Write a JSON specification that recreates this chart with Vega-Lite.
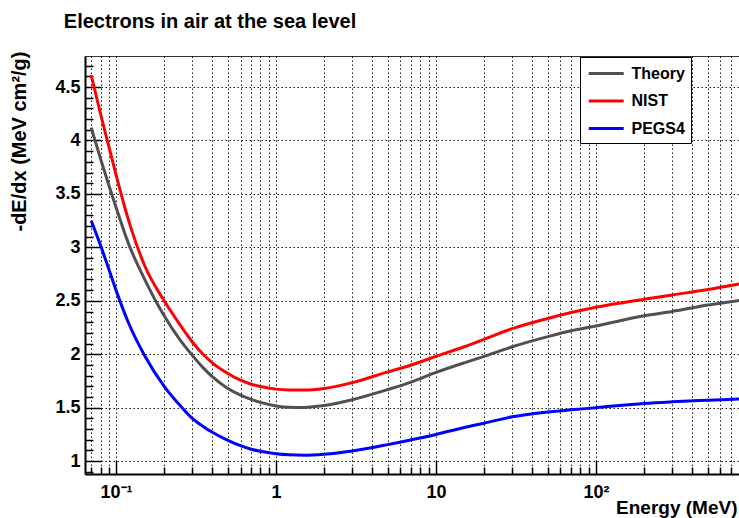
{
  "$schema": "https://vega.github.io/schema/vega-lite/v6.json",
  "width": 654,
  "height": 418,
  "autosize": "none",
  "padding": {"left": 85, "top": 56, "right": 0, "bottom": 44},
  "background": "white",
  "title": {
    "text": "Electrons in air at the sea level",
    "anchor": "start",
    "align": "center",
    "dx": 201,
    "offset": 9,
    "baseline": "middle",
    "font": "Liberation Sans",
    "fontSize": 20,
    "fontWeight": "bold",
    "color": "black"
  },
  "config": {
    "view": {"stroke": "#333", "strokeWidth": 1},
    "font": "Liberation Sans"
  },
  "data": {
    "values": [
      {"series": "Theory", "E": 0.07, "v": 4.12},
      {"series": "Theory", "E": 0.08, "v": 3.83},
      {"series": "Theory", "E": 0.09, "v": 3.585},
      {"series": "Theory", "E": 0.1, "v": 3.375},
      {"series": "Theory", "E": 0.12, "v": 3.03},
      {"series": "Theory", "E": 0.15, "v": 2.71},
      {"series": "Theory", "E": 0.2, "v": 2.36},
      {"series": "Theory", "E": 0.25, "v": 2.14},
      {"series": "Theory", "E": 0.3, "v": 1.99},
      {"series": "Theory", "E": 0.35, "v": 1.875},
      {"series": "Theory", "E": 0.4, "v": 1.79},
      {"series": "Theory", "E": 0.5, "v": 1.68},
      {"series": "Theory", "E": 0.6, "v": 1.618},
      {"series": "Theory", "E": 0.7, "v": 1.578},
      {"series": "Theory", "E": 0.8, "v": 1.55},
      {"series": "Theory", "E": 1.0, "v": 1.517},
      {"series": "Theory", "E": 1.2, "v": 1.505},
      {"series": "Theory", "E": 1.5, "v": 1.503},
      {"series": "Theory", "E": 2, "v": 1.52},
      {"series": "Theory", "E": 3, "v": 1.575},
      {"series": "Theory", "E": 5, "v": 1.67},
      {"series": "Theory", "E": 7, "v": 1.74},
      {"series": "Theory", "E": 10, "v": 1.83},
      {"series": "Theory", "E": 15, "v": 1.92},
      {"series": "Theory", "E": 20, "v": 1.98},
      {"series": "Theory", "E": 30, "v": 2.07},
      {"series": "Theory", "E": 50, "v": 2.165},
      {"series": "Theory", "E": 70, "v": 2.22},
      {"series": "Theory", "E": 100, "v": 2.265},
      {"series": "Theory", "E": 200, "v": 2.36},
      {"series": "Theory", "E": 300, "v": 2.40},
      {"series": "Theory", "E": 500, "v": 2.46},
      {"series": "Theory", "E": 800, "v": 2.505},
      {"series": "Theory", "E": 1000, "v": 2.53},
      {"series": "NIST", "E": 0.07, "v": 4.61},
      {"series": "NIST", "E": 0.08, "v": 4.25},
      {"series": "NIST", "E": 0.09, "v": 3.95},
      {"series": "NIST", "E": 0.1, "v": 3.68},
      {"series": "NIST", "E": 0.12, "v": 3.25},
      {"series": "NIST", "E": 0.15, "v": 2.84},
      {"series": "NIST", "E": 0.2, "v": 2.5},
      {"series": "NIST", "E": 0.25, "v": 2.28},
      {"series": "NIST", "E": 0.3, "v": 2.115},
      {"series": "NIST", "E": 0.35, "v": 2.0},
      {"series": "NIST", "E": 0.4, "v": 1.92},
      {"series": "NIST", "E": 0.5, "v": 1.82},
      {"series": "NIST", "E": 0.6, "v": 1.757},
      {"series": "NIST", "E": 0.7, "v": 1.72},
      {"series": "NIST", "E": 0.8, "v": 1.698},
      {"series": "NIST", "E": 1.0, "v": 1.674},
      {"series": "NIST", "E": 1.2, "v": 1.666},
      {"series": "NIST", "E": 1.5, "v": 1.665},
      {"series": "NIST", "E": 2, "v": 1.68},
      {"series": "NIST", "E": 3, "v": 1.735},
      {"series": "NIST", "E": 5, "v": 1.835},
      {"series": "NIST", "E": 7, "v": 1.9},
      {"series": "NIST", "E": 10, "v": 1.98},
      {"series": "NIST", "E": 15, "v": 2.07},
      {"series": "NIST", "E": 20, "v": 2.14},
      {"series": "NIST", "E": 30, "v": 2.24},
      {"series": "NIST", "E": 50, "v": 2.335},
      {"series": "NIST", "E": 70, "v": 2.39},
      {"series": "NIST", "E": 100, "v": 2.44},
      {"series": "NIST", "E": 200, "v": 2.515},
      {"series": "NIST", "E": 300, "v": 2.555},
      {"series": "NIST", "E": 500, "v": 2.605},
      {"series": "NIST", "E": 800, "v": 2.66},
      {"series": "NIST", "E": 1000, "v": 2.685},
      {"series": "PEGS4", "E": 0.07, "v": 3.25},
      {"series": "PEGS4", "E": 0.08, "v": 3.02},
      {"series": "PEGS4", "E": 0.09, "v": 2.8},
      {"series": "PEGS4", "E": 0.1, "v": 2.6},
      {"series": "PEGS4", "E": 0.12, "v": 2.29},
      {"series": "PEGS4", "E": 0.15, "v": 1.995},
      {"series": "PEGS4", "E": 0.2, "v": 1.7},
      {"series": "PEGS4", "E": 0.25, "v": 1.525},
      {"series": "PEGS4", "E": 0.3, "v": 1.4},
      {"series": "PEGS4", "E": 0.35, "v": 1.325},
      {"series": "PEGS4", "E": 0.4, "v": 1.27},
      {"series": "PEGS4", "E": 0.5, "v": 1.195},
      {"series": "PEGS4", "E": 0.6, "v": 1.145},
      {"series": "PEGS4", "E": 0.7, "v": 1.112},
      {"series": "PEGS4", "E": 0.8, "v": 1.092},
      {"series": "PEGS4", "E": 1.0, "v": 1.07},
      {"series": "PEGS4", "E": 1.2, "v": 1.06},
      {"series": "PEGS4", "E": 1.5, "v": 1.056},
      {"series": "PEGS4", "E": 2, "v": 1.065},
      {"series": "PEGS4", "E": 3, "v": 1.095},
      {"series": "PEGS4", "E": 5, "v": 1.155},
      {"series": "PEGS4", "E": 7, "v": 1.2},
      {"series": "PEGS4", "E": 10, "v": 1.25},
      {"series": "PEGS4", "E": 15, "v": 1.315},
      {"series": "PEGS4", "E": 20, "v": 1.355},
      {"series": "PEGS4", "E": 30, "v": 1.415},
      {"series": "PEGS4", "E": 50, "v": 1.46},
      {"series": "PEGS4", "E": 70, "v": 1.48},
      {"series": "PEGS4", "E": 100, "v": 1.5},
      {"series": "PEGS4", "E": 200, "v": 1.54},
      {"series": "PEGS4", "E": 300, "v": 1.555},
      {"series": "PEGS4", "E": 500, "v": 1.57},
      {"series": "PEGS4", "E": 800, "v": 1.583},
      {"series": "PEGS4", "E": 1000, "v": 1.59}
    ]
  },
  "mark": {"type": "line", "strokeWidth": 3, "interpolate": "monotone", "clip": true},
  "encoding": {
    "x": {
      "field": "E",
      "type": "quantitative",
      "scale": {"type": "log", "domain": [0.064, 783.4], "nice": false},
      "axis": {
        "title": "Energy (MeV)",
        "titleFont": "Liberation Sans",
        "titleFontWeight": "bold",
        "titleFontSize": 19,
        "titleColor": "black",
        "titleAnchor": "end",
        "titleAlign": "right",
        "titleX": 652,
        "titleY": 33,
        "titleBaseline": "middle",
        "values": [0.07, 0.08, 0.09, 0.1, 0.2, 0.3, 0.4, 0.5, 0.6, 0.7, 0.8, 0.9, 1, 2, 3, 4, 5, 6, 7, 8, 9, 10, 20, 30, 40, 50, 60, 70, 80, 90, 100, 200, 300, 400, 500, 600, 700],
        "labelExpr": "datum.value == 0.1 ? '10⁻¹' : datum.value == 1 ? '1' : datum.value == 10 ? '10' : datum.value == 100 ? '10²' : ''",
        "labelFont": "Liberation Sans",
        "labelFontWeight": "bold",
        "labelFontSize": 18,
        "labelColor": "black",
        "labelPadding": 23,
        "labelFlush": false,
        "labelOverlap": false,
        "domainColor": "black",
        "domainWidth": 2,
        "tickColor": "black",
        "tickWidth": 1.5,
        "tickSize": {"condition": {"test": "datum.value == 0.1 || datum.value == 1 || datum.value == 10 || datum.value == 100", "value": -14}, "value": -7},
        "grid": true,
        "gridColor": "black",
        "gridDash": [1.5, 2.5],
        "gridWidth": 1,
        "gridOpacity": 0.9
      }
    },
    "y": {
      "field": "v",
      "type": "quantitative",
      "scale": {"domain": [0.88, 4.79], "nice": false, "zero": false},
      "axis": {
        "title": "-dE/dx (MeV cm²/g)",
        "titleFont": "Liberation Sans",
        "titleFontWeight": "bold",
        "titleFontSize": 20,
        "titleColor": "black",
        "titleAnchor": "end",
        "titleAlign": "right",
        "titleAngle": -90,
        "titleX": -66,
        "titleY": -5,
        "titleBaseline": "middle",
        "values": [0.9, 1.0, 1.1, 1.2, 1.3, 1.4, 1.5, 1.6, 1.7, 1.8, 1.9, 2.0, 2.1, 2.2, 2.3, 2.4, 2.5, 2.6, 2.7, 2.8, 2.9, 3.0, 3.1, 3.2, 3.3, 3.4, 3.5, 3.6, 3.7, 3.8, 3.9, 4.0, 4.1, 4.2, 4.3, 4.4, 4.5, 4.6, 4.7],
        "format": ".1~f",
        "labelExpr": "round(datum.value*10) % 5 == 0 ? datum.label : ''",
        "labelFont": "Liberation Sans",
        "labelFontWeight": "bold",
        "labelFontSize": 18,
        "labelColor": "black",
        "labelPadding": 21,
        "labelOverlap": false,
        "domainColor": "black",
        "domainWidth": 2,
        "tickColor": "black",
        "tickWidth": 1.5,
        "tickSize": {"condition": {"test": "round(datum.value*10) % 5 == 0", "value": -16}, "value": -8},
        "grid": true,
        "gridColor": "black",
        "gridDash": [1.5, 2.5],
        "gridWidth": 1,
        "gridOpacity": {"condition": {"test": "round(datum.value*10) % 5 == 0", "value": 0.9}, "value": 0}
      }
    },
    "color": {
      "field": "series",
      "type": "nominal",
      "scale": {"domain": ["Theory", "NIST", "PEGS4"], "range": ["#505050", "#ff0000", "#0000ff"]},
      "legend": {
        "orient": "none",
        "legendX": 495,
        "legendY": 1,
        "title": null,
        "fillColor": "white",
        "strokeColor": "black",
        "padding": 6,
        "symbolType": "M-2,0H2",
        "symbolSize": 306,
        "symbolOffset": 9.75,
        "symbolStrokeWidth": 3,
        "labelFont": "Liberation Sans",
        "labelFontWeight": "bold",
        "labelFontSize": 16,
        "labelColor": "black",
        "labelOffset": 14.75,
        "rowPadding": 8.5
      }
    }
  }
}
